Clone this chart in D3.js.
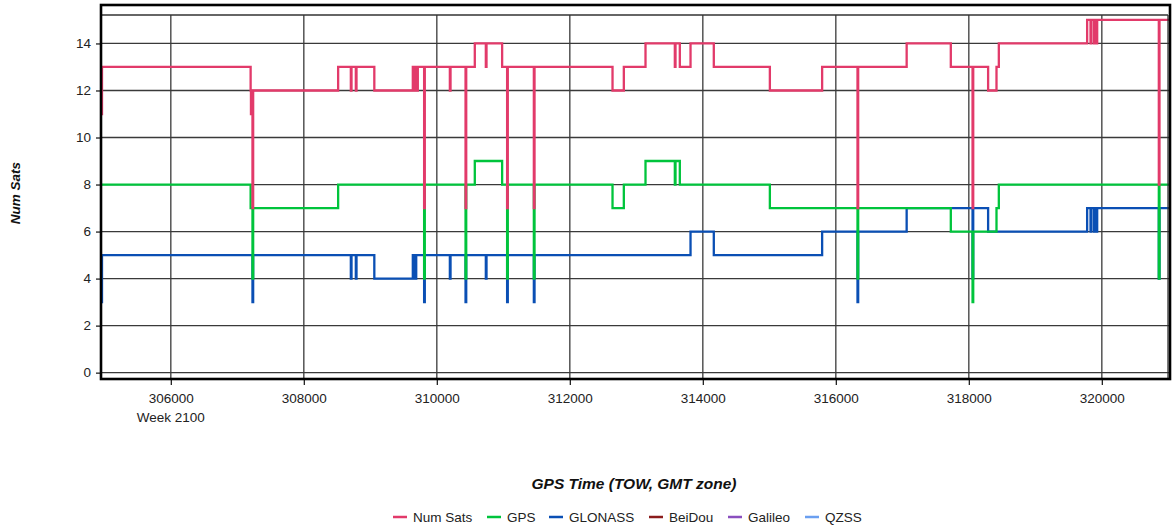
<!DOCTYPE html>
<html>
<head>
<meta charset="utf-8">
<script src="https://cdn.jsdelivr.net/npm/d3@7"></script>
<style>
  body { margin: 0; background: #fff; }
  svg text { font-family: "Liberation Sans", Arial, sans-serif; }
</style>
</head>
<body>
<div id="chart"></div>
<script>
// time of week (s) where each series changes, and the value it steps to
var tStart = 304950, tEnd = 321010;
var xTicks = [306000, 308000, 310000, 312000, 314000, 316000, 318000, 320000];
var yTicks = [0, 2, 4, 6, 8, 10, 12, 14];
var weekLabel = 'Week 2100';

var numSats = [
  [304950, 11], [304965, 13],
  [307200, 12], [307205, 11], [307215, 12], [307228, 7], [307238, 12],
  [308516, 13], [308707, 12], [308717, 13], [308782, 12], [308792, 13],
  [309060, 12],
  [309639, 13], [309655, 12], [309665, 13], [309680, 12], [309690, 13], [309704, 12], [309714, 13],
  [309809, 7], [309819, 13], [310196, 12], [310206, 13], [310432, 7], [310442, 13],
  [310571, 14], [310737, 13], [310747, 14], [310982, 13],
  [311057, 7], [311067, 13], [311459, 7], [311469, 13],
  [312642, 12], [312812, 13], [313138, 14], [313579, 13], [313589, 14],
  [313654, 13], [313815, 14], [314165, 13], [315008, 12], [315794, 13],
  [316326, 7], [316336, 13], [317065, 14], [317729, 13],
  [318056, 7], [318066, 13], [318290, 12], [318416, 13], [318451, 14],
  [319779, 15], [319830, 14], [319840, 15], [319880, 14], [319890, 15], [319920, 14], [319930, 15],
  [320857, 8], [320867, 15]
];
var gps = [
  [304950, 8],
  [307200, 7], [307228, 4], [307238, 7],
  [308516, 8], [309809, 4], [309819, 8], [310432, 4], [310442, 8],
  [310571, 9], [310982, 8],
  [311057, 4], [311067, 8], [311459, 4], [311469, 8],
  [312642, 7], [312812, 8], [313138, 9], [313579, 8], [313589, 9], [313654, 8],
  [315008, 7], [316326, 4], [316336, 7], [317729, 6],
  [318056, 3], [318066, 6], [318416, 7], [318451, 8],
  [320857, 4], [320867, 8]
];
var glonass = [
  [304950, 3], [304965, 5],
  [307228, 3], [307238, 5],
  [308707, 4], [308717, 5], [308782, 4], [308792, 5], [309060, 4],
  [309639, 5], [309655, 4], [309665, 5], [309680, 4], [309690, 5],
  [309809, 3], [309819, 5], [310196, 4], [310206, 5], [310432, 3], [310442, 5],
  [310737, 4], [310747, 5], [311057, 3], [311067, 5], [311459, 3], [311469, 5],
  [313815, 6], [314165, 5], [315794, 6], [316326, 3], [316336, 6],
  [317065, 7], [318056, 4], [318066, 7], [318290, 6],
  [319779, 7], [319830, 6], [319840, 7], [319880, 6], [319890, 7], [319920, 6], [319930, 7],
  [320857, 4], [320867, 7]
];
var beidou = [];
var galileo = [];
var qzss = [];

var seriesNames = ['Num Sats', 'GPS', 'GLONASS', 'BeiDou', 'Galileo', 'QZSS'];
var seriesData = [numSats, gps, glonass, beidou, galileo, qzss];
var colors = ['#e23a6a', '#00c43c', '#0a4fb4', '#8b1c1c', '#8a4fbf', '#6a9ff0'];

var W = 1172, H = 531;
var L = 101, R = 1169, T = 15, B = 379;

var x = d3.scaleLinear().domain([tStart, tEnd]).range([L, R]);
var y = d3.scaleLinear().domain([-0.27, 15.21]).range([B, T]);

var svg = d3.select('#chart').append('svg').attr('width', W).attr('height', H);

// grid
svg.append('g').selectAll('line').data(yTicks).enter().append('line')
  .attr('x1', L).attr('x2', R)
  .attr('y1', (d) => y(d)).attr('y2', (d) => y(d))
  .attr('stroke', '#3a3a3a').attr('stroke-width', 1.3);
svg.append('g').selectAll('line').data(xTicks).enter().append('line')
  .attr('x1', (d) => x(d)).attr('x2', (d) => x(d))
  .attr('y1', T).attr('y2', B)
  .attr('stroke', '#3a3a3a').attr('stroke-width', 1.3);

// axes (ticks + labels)
var yAxis = svg.append('g').attr('transform', 'translate(' + L + ',0)')
  .call(d3.axisLeft(y).tickValues(yTicks).tickSize(5).tickSizeOuter(0).tickPadding(5));
var xAxis = svg.append('g').attr('transform', 'translate(0,' + B + ')')
  .call(d3.axisBottom(x).tickValues(xTicks).tickSize(6).tickSizeOuter(0).tickPadding(8)
    .tickFormat(d3.format('d')));
[yAxis, xAxis].forEach((a) => {
  a.select('.domain').remove();
  a.selectAll('line').attr('stroke', '#222').attr('stroke-width', 1.3);
  a.selectAll('text').attr('font-size', 13.5).attr('fill', '#222')
    .attr('font-family', '"Liberation Sans", Arial, sans-serif');
});
svg.append('text').attr('x', x(xTicks[0])).attr('y', 422)
  .attr('text-anchor', 'middle').attr('font-size', 13.5).attr('fill', '#222')
  .text(weekLabel);

// series, drawn last-to-first so Num Sats ends on top
var line = d3.line().curve(d3.curveStepAfter)
  .x((d) => x(d[0])).y((d) => y(d[1]));
var plot = svg.append('g');
for (var i = seriesData.length - 1; i >= 0; i--) {
  var s = seriesData[i];
  if (!s.length) continue;
  var pts = s.concat([[tEnd, s[s.length - 1][1]]]);
  plot.append('path').datum(pts)
    .attr('d', line)
    .attr('fill', 'none')
    .attr('stroke', colors[i])
    .attr('stroke-width', 2.3);
}

// frame
svg.append('line').attr('x1', L).attr('x2', R - 1).attr('y1', T).attr('y2', T)
  .attr('stroke', '#333').attr('stroke-width', 1.3);
svg.append('line').attr('x1', R - 1).attr('x2', R - 1).attr('y1', T).attr('y2', B)
  .attr('stroke', '#333').attr('stroke-width', 1.3);
svg.append('rect').attr('x', L).attr('y', 5).attr('width', R + 1 - L).attr('height', B - 5)
  .attr('fill', 'none').attr('stroke', '#000').attr('stroke-width', 2.6);

// axis titles
svg.append('text').attr('x', 634).attr('y', 489).attr('text-anchor', 'middle')
  .attr('font-size', 15.5).attr('font-weight', 'bold').attr('font-style', 'italic')
  .attr('fill', '#111').text('GPS Time (TOW, GMT zone)');
svg.append('text').attr('transform', 'translate(20,193) rotate(-90)')
  .attr('text-anchor', 'middle')
  .attr('font-size', 13.5).attr('font-weight', 'bold').attr('font-style', 'italic')
  .attr('fill', '#111').text('Num Sats');

// legend
var legendX = [393, 487, 549, 649, 728, 805];
var lg = svg.append('g').selectAll('g').data(seriesNames).enter().append('g')
  .attr('transform', (d, i) => 'translate(' + legendX[i] + ',517)');
lg.append('line').attr('x1', 0).attr('x2', 14).attr('y1', 0).attr('y2', 0)
  .attr('stroke', (d, i) => colors[i]).attr('stroke-width', 2.5);
lg.append('text').attr('x', 20).attr('y', 5).attr('font-size', 13.5).attr('fill', '#222')
  .text((d) => d);
</script>
</body>
</html>
